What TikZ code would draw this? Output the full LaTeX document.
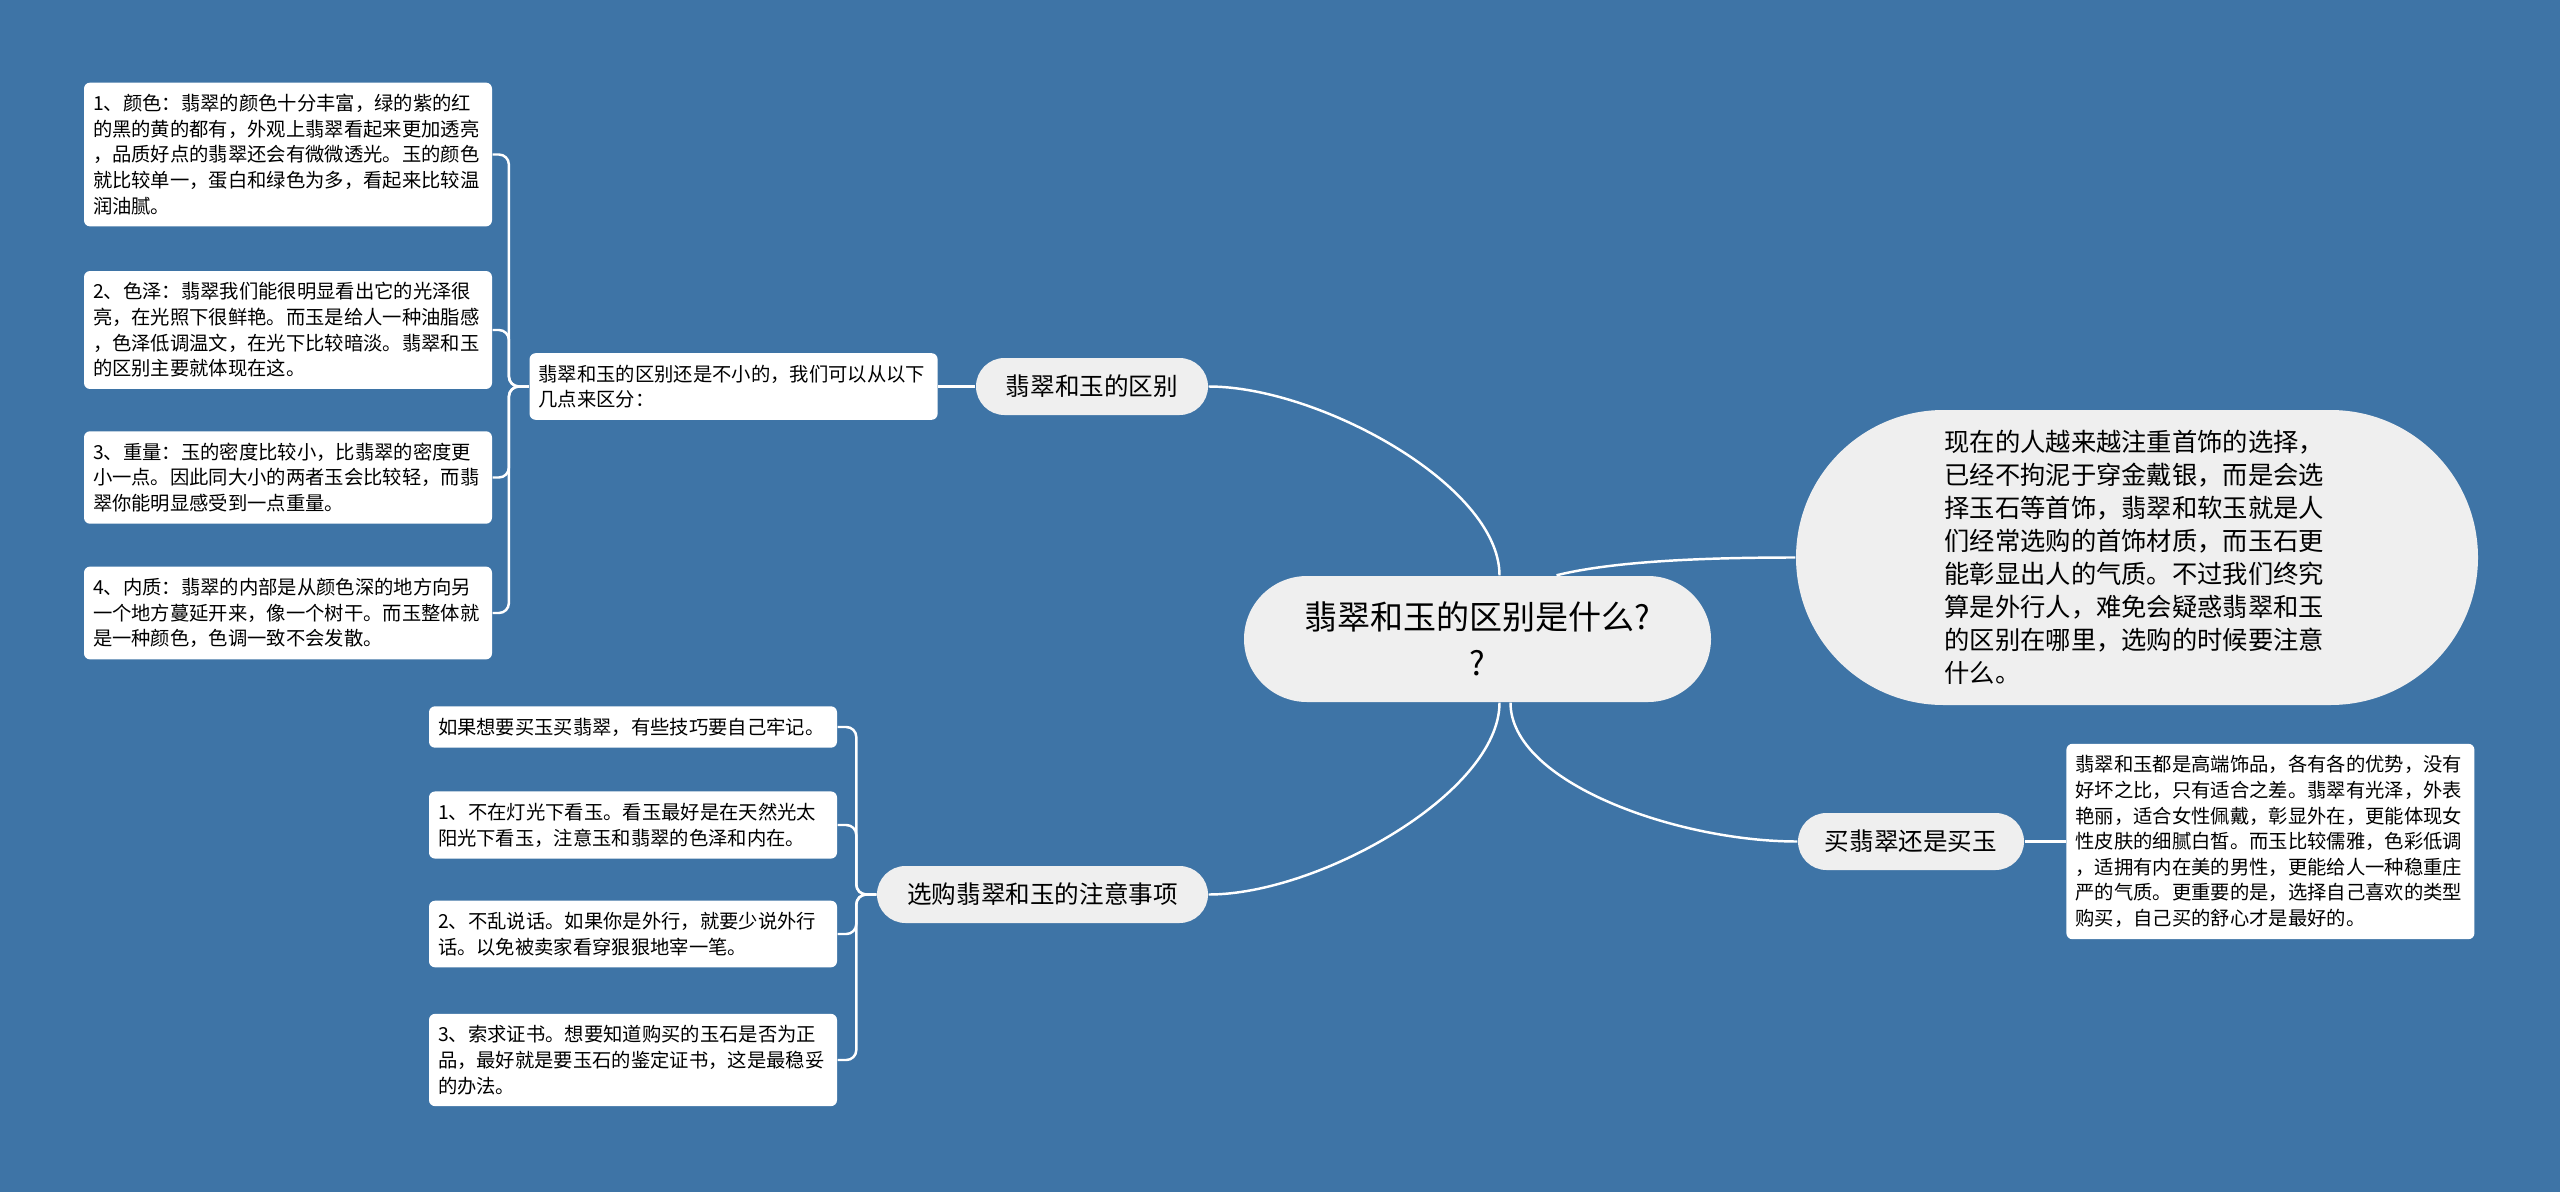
\documentclass[tikz,border=0pt]{standalone}
\usepackage{fontspec}
\setmainfont{Noto Sans CJK SC}
\usepackage{tikz}
\usetikzlibrary{positioning,shapes.misc}
\definecolor{bgblue}{RGB}{62,116,166}
\definecolor{pillgray}{RGB}{239,239,239}

\begin{document}
\begin{tikzpicture}[
      pill/.style={rounded rectangle, fill=pillgray, inner sep=0pt, align=center, minimum height=0.57cm, font=\fontsize{7pt}{9pt}\selectfont},
      leaf/.style={fill=white, rounded corners=0.06cm, inner xsep=0.09cm, inner ysep=0.115cm, text width=3.9cm, align=left, font=\fontsize{5.5pt}{7.3pt}\selectfont},
      link/.style={draw=white, line width=0.7pt},
      twig/.style={link, rounded corners=0.1cm}]
      \fill[bgblue] (0,0) rectangle (25.6,-11.92);
      \useasboundingbox (0,0) rectangle (25.6,-11.92);
      \node[pill, minimum width=4.67cm, minimum height=1.26cm, font=\fontsize{9.4pt}{13pt}\selectfont] (root) at (14.775,-6.39) {翡翠和玉的区别是什么?\\?};
      \node[pill, minimum width=6.82cm, minimum height=2.95cm, text width=3.85cm, align=left, font=\fontsize{7.2pt}{9.4pt}\selectfont] (intro) at (21.37,-5.575) {现在的人越来越注重首饰的选择，\\已经不拘泥于穿金戴银，而是会选\\择玉石等首饰，翡翠和软玉就是人\\们经常选购的首饰材质，而玉石更\\能彰显出人的气质。不过我们终究\\算是外行人，难免会疑惑翡翠和玉\\的区别在哪里，选购的时候要注意\\什么。};
      \node[pill, minimum width=2.32cm] (diff) at (10.92,-3.865) {翡翠和玉的区别};
      \node[pill, minimum width=3.31cm] (tips) at (10.425,-8.945) {选购翡翠和玉的注意事项};
      \node[pill, minimum width=2.26cm] (buy) at (19.11,-8.415) {买翡翠还是买玉};
      \node[leaf, left=0.37cm of diff] (diffnote) {翡翠和玉的区别还是不小的，我们可以从以下\\几点来区分：};
      \node[leaf] (color) at (2.88,-1.545) {1、颜色：翡翠的颜色十分丰富，绿的紫的红\\的黑的黄的都有，外观上翡翠看起来更加透亮\\，品质好点的翡翠还会有微微透光。玉的颜色\\就比较单一，蛋白和绿色为多，看起来比较温\\润油腻。};
      \node[leaf] (luster) at (2.88,-3.30) {2、色泽：翡翠我们能很明显看出它的光泽很\\亮，在光照下很鲜艳。而玉是给人一种油脂感\\，色泽低调温文，在光下比较暗淡。翡翠和玉\\的区别主要就体现在这。};
      \node[leaf] (weight) at (2.88,-4.775) {3、重量：玉的密度比较小，比翡翠的密度更\\小一点。因此同大小的两者玉会比较轻，而翡\\翠你能明显感受到一点重量。};
      \node[leaf] (inner) at (2.88,-6.13) {4、内质：翡翠的内部是从颜色深的地方向另\\一个地方蔓延开来，像一个树干。而玉整体就\\是一种颜色，色调一致不会发散。};
      \node[leaf] (remember) at (6.33,-7.27) {如果想要买玉买翡翠，有些技巧要自己牢记。};
      \node[leaf] (light) at (6.33,-8.25) {1、不在灯光下看玉。看玉最好是在天然光太\\阳光下看玉，注意玉和翡翠的色泽和内在。};
      \node[leaf] (talk) at (6.33,-9.34) {2、不乱说话。如果你是外行，就要少说外行\\话。以免被卖家看穿狠狠地宰一笔。};
      \node[leaf] (cert) at (6.33,-10.60) {3、索求证书。想要知道购买的玉石是否为正\\品，最好就是要玉石的鉴定证书，这是最稳妥\\的办法。};
      \node[leaf, right=0.41cm of buy] (buynote) {翡翠和玉都是高端饰品，各有各的优势，没有\\好坏之比，只有适合之差。翡翠有光泽，外表\\艳丽，适合女性佩戴，彰显外在，更能体现女\\性皮肤的细腻白皙。而玉比较儒雅，色彩低调\\，适拥有内在美的男性，更能给人一种稳重庄\\严的气质。更重要的是，选择自己喜欢的类型\\购买，自己买的舒心才是最好的。};
      \draw[link] ([xshift=0.22cm]root.north) .. controls +(0,0.9) and +(1.1,0) .. (diff.east);
      \draw[link] ([xshift=0.79cm]root.north) .. controls +(0.6,0.15) and +(-0.8,0) .. (intro.west);
      \draw[link] ([xshift=0.22cm]root.south) .. controls +(0,-0.9) and +(1.1,0) .. (tips.east);
      \draw[link] ([xshift=0.33cm]root.south) .. controls +(0,-0.8) and +(-1.2,0) .. (buy.west);
      \draw[link] (diff.west) -- (diffnote.east);
      \draw[link] (buy.east) -- (buynote.west);
      \draw[twig] (diffnote.west) -- ++(-0.2,0) |- (color.east);
      \draw[twig] (diffnote.west) -- ++(-0.2,0) |- (luster.east);
      \draw[twig] (diffnote.west) -- ++(-0.2,0) |- (weight.east);
      \draw[twig] (diffnote.west) -- ++(-0.2,0) |- (inner.east);
      \draw[twig] (tips.west) -- ++(-0.2,0) |- (remember.east);
      \draw[twig] (tips.west) -- ++(-0.2,0) |- (light.east);
      \draw[twig] (tips.west) -- ++(-0.2,0) |- (talk.east);
      \draw[twig] (tips.west) -- ++(-0.2,0) |- (cert.east);
    \end{tikzpicture}
\end{document}
